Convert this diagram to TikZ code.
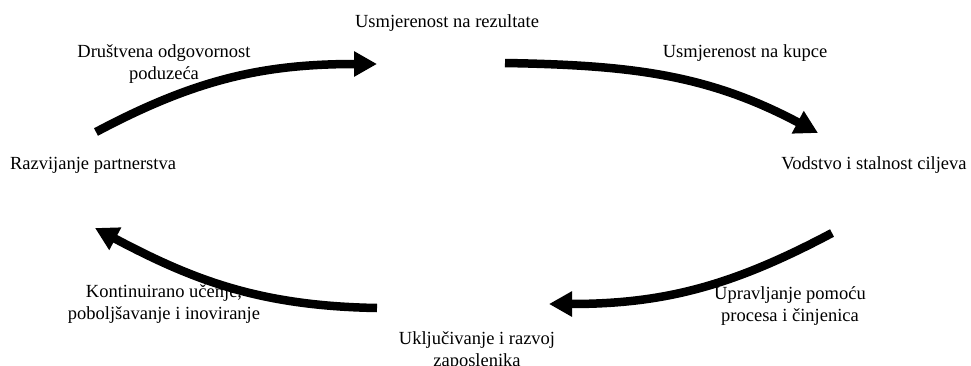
\documentclass[tikz,border=0pt]{standalone}
\usepackage{fontspec}
\setmainfont{Liberation Serif}
\usetikzlibrary{arrows.meta}

\tikzset{
  lbl/.style={inner sep=0pt, align=center, font=\fontsize{18.5}{21.5}\selectfont},
  bigarrow/.style={line width=8.5pt, -{Triangle[length=23pt,width=24pt]}}
}

\begin{document}
\begin{tikzpicture}[x=1pt,y=1pt]
    \useasboundingbox (0,0) rectangle (971,365);

    \node[lbl] (rezultate) at (447, 342) {Usmjerenost na rezultate};
    \node[lbl] (drustvena) at (164, 301) {Društvena odgovornost\\poduzeća};
    \node[lbl] (kupce) at (745, 312) {Usmjerenost na kupce};
    \node[lbl] (vodstvo) at (874, 200) {Vodstvo i stalnost ciljeva};
    \node[lbl] (partnerstvo) at (93, 200) {Razvijanje partnerstva};
    \node[lbl] (ucenje) at (164, 61) {Kontinuirano učenje,\\poboljšavanje i inoviranje};
    \node[lbl] (zaposlenici) at (477, 14) {Uključivanje i razvoj\\zaposlenika};
    \node[lbl] (procesi) at (790, 59) {Upravljanje pomoću\\procesa i činjenica};

    % ends of the four arrows
    \coordinate (a1s) at (96, 233);
    \coordinate (a1e) at (377, 301);
    \coordinate (a2s) at (505, 302);
    \coordinate (a2e) at (818, 232);
    \coordinate (a3s) at (832, 132);
    \coordinate (a3e) at (549, 61);
    \coordinate (a4s) at (377, 57);
    \coordinate (a4e) at (95, 137);

    \draw[bigarrow] (a1s) to[out=28, in=180] (a1e);
    \draw[bigarrow] (a2s) to[out=-1, in=152] (a2e);
    \draw[bigarrow] (a3s) to[out=208, in=0] (a3e);
    \draw[bigarrow] (a4s) to[out=179, in=-28] (a4e);
\end{tikzpicture}
\end{document}
